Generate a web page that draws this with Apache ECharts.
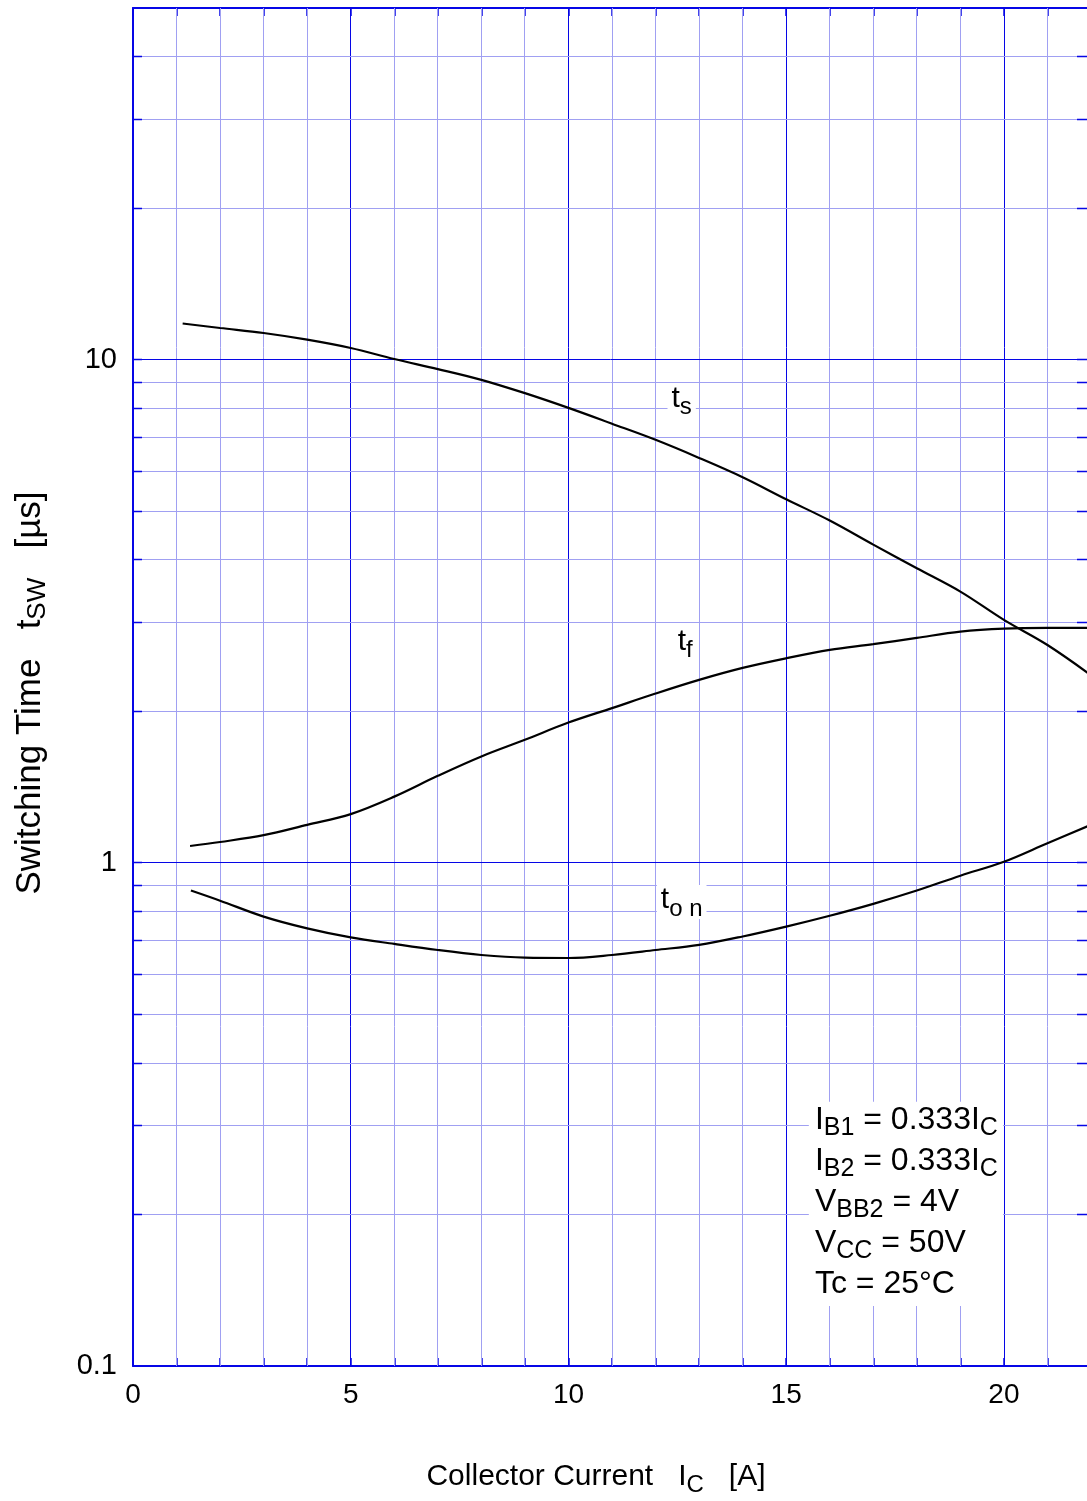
<!DOCTYPE html>
<html>
<head>
<meta charset="utf-8">
<script src="https://cdn.jsdelivr.net/npm/echarts@6/dist/echarts.min.js"></script>
<style>
html,body{margin:0;padding:0;background:#fff;}
#chart{width:1087px;height:1501px;}
</style>
</head>
<body>
<div id="chart"></div>
<script>
// ---------- data ----------
const xTickLabels = [0, 5, 10, 15, 20];
const yTickLabels = [0.1, 1, 10];

const tsCurrent = [1.14, 2, 3, 4, 5, 6, 7, 8, 9, 10, 11, 12, 13, 14, 15, 16, 17, 18, 19, 20, 21, 22];
const tsTime    = [11.8, 11.56, 11.3, 10.96, 10.55, 10.03, 9.58, 9.12, 8.58, 8.02, 7.46, 6.93, 6.38, 5.84, 5.28, 4.79, 4.29, 3.85, 3.46, 3.04, 2.71, 2.36];

const tfCurrent = [1.31, 2, 3, 4, 5, 6, 7, 8, 9, 10, 11, 12, 13, 14, 15, 16, 17, 18, 19, 20, 21, 22];
const tfTime    = [1.08, 1.10, 1.135, 1.19, 1.25, 1.354, 1.489, 1.627, 1.756, 1.90, 2.03, 2.17, 2.31, 2.44, 2.55, 2.65, 2.72, 2.80, 2.88, 2.92, 2.93, 2.93];

const tonCurrent = [1.33, 2, 3, 4, 5, 6, 7, 8, 9, 10, 11, 12, 13, 14, 15, 16, 17, 18, 19, 20, 21, 22];
const tonTime    = [0.881, 0.841, 0.782, 0.741, 0.711, 0.690, 0.671, 0.656, 0.648, 0.647, 0.656, 0.671, 0.687, 0.714, 0.747, 0.785, 0.829, 0.881, 0.943, 1.005, 1.094, 1.19];

const curveLabelText = [
  {main: 't', sub: 's'},
  {main: 't', sub: 'f'},
  {main: 't', sub: 'o n'}
];
const conditionLines = [
  ['I', 'B1', ' = 0.333I', 'C'],
  ['I', 'B2', ' = 0.333I', 'C'],
  ['V', 'BB2', ' = 4V'],
  ['V', 'CC', ' = 50V'],
  ['Tc = 25°C']
];

// ---------- layout / styling (not data) ----------
const X_MIN = 0, X_MAX = 22, Y_MIN = 0.1, Y_MAX = 50;
const DARK = '#0606e6';
const LIGHT = '#a0a0f2';
const FF = '"Liberation Sans", Arial, Helvetica, sans-serif';
const curveLabelAnchors = [[12.6, 8.37], [12.68, 2.75], [12.6, 0.844]];
const noteBox = {x0: 15.52, x1: 20, yTop: 0.335, yBottom: 0.1316, textX: 15.66};

// gridline positions generated from the axis structure
const xMinor = [];
for (let v = 1; v <= X_MAX; v++) if (v % 5 !== 0) xMinor.push(v);
const yMinor = [];
[0.1, 1, 10].forEach(d => { for (let m = 2; m <= 9; m++) { const v = +(d * m).toPrecision(3); if (v < Y_MAX) yMinor.push(v); } });
const yDecades = [1, 10];

function crisp(v) { return Math.round(v - 0.5) + 0.5; }

function vLineSeries(values, color, z) {
  return {
    type: 'custom', z: z, silent: true, animation: false, clip: false,
    data: values.map(v => [v, 1]),
    renderItem: (p, api) => {
      const a = api.coord([api.value(0), Y_MIN]);
      const b = api.coord([api.value(0), Y_MAX]);
      const x = crisp(a[0]);
      return {type: 'line', shape: {x1: x, y1: a[1], x2: x, y2: b[1]}, style: {stroke: color, lineWidth: 1}};
    }
  };
}
function hLineSeries(values, color, z) {
  return {
    type: 'custom', z: z, silent: true, animation: false, clip: false,
    data: values.map(v => [1, v]),
    renderItem: (p, api) => {
      const a = api.coord([X_MIN, api.value(1)]);
      const b = api.coord([X_MAX, api.value(1)]);
      const y = crisp(a[1]);
      return {type: 'line', shape: {x1: a[0], y1: y, x2: b[0], y2: y}, style: {stroke: color, lineWidth: 1}};
    }
  };
}

const boxRich = {
  m: {fontSize: 32, lineHeight: 41, verticalAlign: 'top', fontFamily: FF, fill: '#000'},
  s: {fontSize: 25, lineHeight: 20, padding: [12, 0, 0, 0], verticalAlign: 'top', fontFamily: FF, fill: '#000'}
};
const labelRich = {
  m: {fontSize: 30, lineHeight: 34, verticalAlign: 'top', fontFamily: FF, fill: '#000'},
  s: {fontSize: 24, lineHeight: 20, padding: [12, 0, 0, 0], verticalAlign: 'top', fontFamily: FF, fill: '#000'}
};

function richLine(parts) {
  return parts.map((t, i) => (i % 2 === 0 ? '{m|' : '{s|') + t + '}').join('');
}

const chart = echarts.init(document.getElementById('chart'), null, {renderer: 'canvas'});

const option = {
  animation: false,
  backgroundColor: '#ffffff',
  grid: {left: 133, right: -4, top: 8, bottom: 135, containLabel: false, outerBoundsMode: 'none'},
  xAxis: [
    {
      type: 'value', min: X_MIN, max: X_MAX, interval: 1, position: 'bottom',
      name: '{m|Collector Current   I}{s|C}{m|   [A]}',
      nameLocation: 'middle', nameGap: 96,
      nameTextStyle: {
        padding: [0, 32, 0, 0],
        rich: {
          m: {fontSize: 30, lineHeight: 40, verticalAlign: 'top', fontFamily: FF, color: '#000'},
          s: {fontSize: 24, lineHeight: 20, padding: [11, 0, 0, 0], verticalAlign: 'top', fontFamily: FF, color: '#000'}
        }
      },
      axisLine: {show: true, onZero: false, lineStyle: {color: DARK, width: 2}},
      axisTick: {show: true, inside: true, length: 8, lineStyle: {color: DARK, width: 1.5}},
      axisLabel: {
        fontSize: 28, fontFamily: FF, color: '#000', margin: 15,
        formatter: v => (xTickLabels.indexOf(Math.round(v)) >= 0 && Math.abs(v - Math.round(v)) < 1e-6) ? String(Math.round(v)) : ''
      },
      splitLine: {show: false}
    },
    {
      type: 'value', min: X_MIN, max: X_MAX, interval: 1, position: 'top',
      axisLine: {show: true, onZero: false, lineStyle: {color: DARK, width: 2}},
      axisTick: {show: true, inside: true, length: 8, lineStyle: {color: DARK, width: 1.5}},
      axisLabel: {show: false},
      splitLine: {show: false}
    },
    {
      // major vertical gridlines every 5 A
      type: 'value', min: X_MIN, max: X_MAX, interval: 5, position: 'bottom',
      axisLine: {show: false, onZero: false}, axisTick: {show: false}, axisLabel: {show: false},
      splitLine: {show: true, lineStyle: {color: DARK, width: 1}}
    }
  ],
  yAxis: [
    {
      type: 'log', logBase: 10, min: Y_MIN, max: Y_MAX, position: 'left',
      name: '{m|Switching Time   t}{s|SW}{m|   [µs]}',
      nameLocation: 'middle', nameGap: 80,
      nameTextStyle: {
        padding: [0, 12, 0, 0],
        rich: {
          m: {fontSize: 35, lineHeight: 40, verticalAlign: 'top', fontFamily: FF, color: '#000'},
          s: {fontSize: 26, lineHeight: 20, padding: [12, 0, 0, 0], verticalAlign: 'top', fontFamily: FF, color: '#000'}
        }
      },
      axisLine: {show: true, onZero: false, lineStyle: {color: DARK, width: 2}},
      axisTick: {show: false},
      axisLabel: {
        fontSize: 29, fontFamily: FF, color: '#000', margin: 16, showMaxLabel: false,
        formatter: v => {
          const r = +(+v).toPrecision(3);
          return yTickLabels.indexOf(r) >= 0 ? String(r) : '';
        }
      },
      splitLine: {show: false}
    }
  ],
  series: [
    vLineSeries(xMinor, LIGHT, 1),
    hLineSeries(yMinor, LIGHT, 1),
    // conditions box (white background over the light grid)
    {
      type: 'custom', z: 2, silent: true, animation: false, clip: false,
      data: [[noteBox.x0, noteBox.yTop]],
      renderItem: (p, api) => {
        const a = api.coord([noteBox.x0, noteBox.yTop]);
        const b = api.coord([noteBox.x1, noteBox.yBottom]);
        const t = api.coord([noteBox.textX, noteBox.yTop]);
        const right = Math.floor(b[0]);
        return {
          type: 'group',
          children: [
            {type: 'rect', shape: {x: a[0], y: a[1], width: right - a[0], height: b[1] - a[1]}, style: {fill: '#fff'}},
            {type: 'text', x: t[0], y: t[1] + 2, style: {
              text: conditionLines.map(richLine).join('\n'),
              rich: boxRich, align: 'left', verticalAlign: 'top', fontFamily: FF, fontSize: 32, fill: '#000'
            }}
          ]
        };
      }
    },
    hLineSeries(yDecades, DARK, 3),
    // inward ticks on left/right edges for every y gridline
    {
      type: 'custom', z: 3, silent: true, animation: false, clip: false,
      data: yMinor.concat(yDecades).map(v => [1, v]),
      renderItem: (p, api) => {
        const l = api.coord([X_MIN, api.value(1)]);
        const r = api.coord([X_MAX, api.value(1)]);
        const y = crisp(l[1]);
        return {type: 'group', children: [
          {type: 'line', shape: {x1: l[0], y1: y, x2: l[0] + 9, y2: y}, style: {stroke: DARK, lineWidth: 1.5}},
          {type: 'line', shape: {x1: r[0] - 14, y1: y, x2: r[0], y2: y}, style: {stroke: DARK, lineWidth: 1.5}}
        ]};
      }
    },
    {
      name: 'ts', type: 'line', z: 5, smooth: 0.35, showSymbol: false, symbol: 'none',
      lineStyle: {color: '#000', width: 2.2}, itemStyle: {color: '#000'},
      data: tsCurrent.map((x, i) => [x, tsTime[i]])
    },
    {
      name: 'tf', type: 'line', z: 5, smooth: 0.35, showSymbol: false, symbol: 'none',
      lineStyle: {color: '#000', width: 2.2}, itemStyle: {color: '#000'},
      data: tfCurrent.map((x, i) => [x, tfTime[i]])
    },
    {
      name: 'ton', type: 'line', z: 5, smooth: 0.35, showSymbol: false, symbol: 'none',
      lineStyle: {color: '#000', width: 2.2}, itemStyle: {color: '#000'},
      data: tonCurrent.map((x, i) => [x, tonTime[i]])
    },
    // curve labels
    {
      type: 'custom', z: 6, silent: true, animation: false, clip: false,
      data: curveLabelAnchors,
      renderItem: (p, api) => {
        const c = api.coord([api.value(0), api.value(1)]);
        const L = curveLabelText[p.dataIndex];
        return {type: 'text', x: c[0], y: c[1] - 15, style: {
          text: '{m|' + L.main + '}{s|' + L.sub + '}',
          rich: labelRich, align: 'center', verticalAlign: 'top',
          fontFamily: FF, fontSize: 30, fill: '#000',
          backgroundColor: '#fff', padding: [0, 4, 0, 4]
        }};
      }
    }
  ]
};

chart.setOption(option);
</script>
</body>
</html>
